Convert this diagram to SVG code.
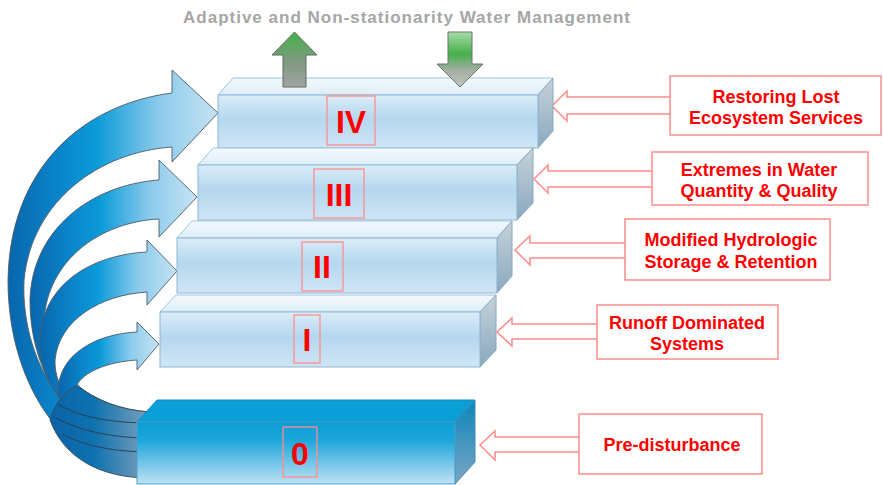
<svg xmlns="http://www.w3.org/2000/svg" width="883" height="485" viewBox="0 0 883 485">
<style>
text{font-family:"Liberation Sans",Arial,Helvetica,sans-serif;font-weight:bold}
.title{fill:#a6a6a6;font-size:17px}
.num{fill:#ff0000;font-size:32px;text-anchor:middle}
.lab{fill:#ff0000;font-size:18px;text-anchor:middle}
.numbox{fill:none;stroke:#ff8c8c;stroke-width:1.3}
.labbox{fill:#fff;stroke:#ff8c8c;stroke-width:1.5}
.hollow{fill:#fff;stroke:#ff8c8c;stroke-width:1.5;stroke-linejoin:miter}
.front{fill:url(#gFront);stroke:#8db5d4;stroke-width:1}
.top{fill:url(#gTop);stroke:#9cc3e0;stroke-width:1}
.side{fill:url(#gSide);stroke:#8aa9c0;stroke-width:1}
.curve{fill:url(#gCurve);stroke:#4a5a68;stroke-width:0.9;stroke-linejoin:round}
.band{fill:none;stroke:#2a3a4a;stroke-width:0.9}
</style>
<defs>
<linearGradient id="gFront" x1="0" y1="0" x2="0" y2="1">
<stop offset="0" stop-color="#dbedf8"/><stop offset="0.45" stop-color="#b4d7ef"/><stop offset="1" stop-color="#cfe5f4"/>
</linearGradient>
<linearGradient id="gTop" x1="0" y1="0" x2="0" y2="1">
<stop offset="0" stop-color="#f4f9fd"/><stop offset="1" stop-color="#dcedf8"/>
</linearGradient>
<linearGradient id="gSide" x1="0" y1="0" x2="0" y2="1">
<stop offset="0" stop-color="#c6d2da"/><stop offset="1" stop-color="#8aa8be"/>
</linearGradient>
<linearGradient id="gFront0" x1="0" y1="0" x2="0" y2="1">
<stop offset="0" stop-color="#0a9dd6"/><stop offset="0.3" stop-color="#1ea7dc"/><stop offset="1" stop-color="#c2e1f3"/>
</linearGradient>
<linearGradient id="gSide0" x1="0" y1="0" x2="0" y2="1">
<stop offset="0" stop-color="#0a86bd"/><stop offset="1" stop-color="#7aa6c2"/>
</linearGradient>
<linearGradient id="gCurve" x1="0" y1="0" x2="1" y2="0">
<stop offset="0" stop-color="#0866ac"/><stop offset="0.2" stop-color="#0a80c6"/><stop offset="0.42" stop-color="#0b9ad8"/><stop offset="0.72" stop-color="#8ccbec"/><stop offset="1" stop-color="#c6e3f4"/>
</linearGradient>
<linearGradient id="gFold" gradientUnits="userSpaceOnUse" x1="48" y1="0" x2="150" y2="0">
<stop offset="0" stop-color="#0a62a6"/><stop offset="0.45" stop-color="#0e72b0"/><stop offset="1" stop-color="#7fa1b9"/>
</linearGradient>
<linearGradient id="gUp" x1="0" y1="0" x2="0" y2="1">
<stop offset="0" stop-color="#45b04a"/><stop offset="0.55" stop-color="#7f9a80"/><stop offset="1" stop-color="#a3a3a3"/>
</linearGradient>
<linearGradient id="gDown" x1="0" y1="0" x2="0" y2="1">
<stop offset="0" stop-color="#a6dba8"/><stop offset="0.4" stop-color="#46b04b"/><stop offset="0.68" stop-color="#9fae9f"/><stop offset="1" stop-color="#c4c4c4"/>
</linearGradient>
</defs>
<rect width="883" height="485" fill="#ffffff"/>

<g id="title"><text class="title" x="183" y="23" textLength="447" lengthAdjust="spacing">Adaptive and Non-stationarity Water Management</text></g>

<g id="connectors">
<g id="curved-arrows">
<path class="curve" d="M 172 93 C 80 105, 10 170, 8 280 C 8 390, 70 470, 150 478 L 150 452 C 80 445, 20 370, 24 280 C 32 200, 100 152, 172 147 L 172 162 L 218 113 L 172 70 Z"/>
<path class="curve" d="M 159 180 C 90 185, 32 230, 30 300 C 30 390, 90 448, 150 452 L 150 438 C 100 438, 44 400, 44 320 C 48 260, 100 222, 159 219 L 159 237 L 197 197 L 159 160 Z"/>
<path class="curve" d="M 147 252 C 90 255, 42 285, 40 340 C 38 400, 95 437, 150 438 L 150 423 C 100 423, 54 405, 55 360 C 59 320, 100 295, 147 292 L 147 305 L 177 271 L 147 240 Z"/>
<path class="curve" d="M 137 332 C 95 334, 58 355, 58 392 C 58 410, 100 423, 150 423 L 150 412 C 120 410, 95 400, 77 385 C 83 373, 105 362, 137 360 L 137 370 L 159 344 L 137 322 Z"/>
<path d="M 77 385 C 95 400, 120 410, 150 412 L 150 478 C 100 478, 64 458, 50 420 C 55 402, 65 392, 77 385 Z" fill="url(#gFold)" stroke="#3a4a58" stroke-width="0.9"/>
<path class="band" d="M 58 404 C 80 418, 115 423, 150 423"/>
<path class="band" d="M 56 418 C 82 432, 115 438, 150 438"/>
<path class="band" d="M 62 434 C 86 447, 118 452, 150 452"/>
</g>
<path id="hollow-IV" class="hollow" d="M 670 97 L 567 97 L 567 91 L 552 106 L 567 121 L 567 114 L 670 114"/>
<path id="hollow-III" class="hollow" d="M 652 171 L 548 171 L 548 165 L 534 179 L 548 193 L 548 187 L 652 187"/>
<path id="hollow-II" class="hollow" d="M 625 243 L 530 243 L 530 236 L 515 250 L 530 265 L 530 258 L 625 258"/>
<path id="hollow-I" class="hollow" d="M 597 324 L 512 324 L 512 318 L 497 332 L 512 346 L 512 339 L 597 339"/>
<path id="hollow-0" class="hollow" d="M 579 437 L 495 437 L 495 431 L 480 445 L 495 460 L 495 452 L 579 452"/>
</g>

<g id="box-IV">
<polygon class="top" points="218,95 233,78 553,78 538,95"/>
<polygon class="side" points="538,95 553,78 553,131 538,148"/>
<rect class="front" x="218" y="95" width="320" height="53"/>
<rect class="numbox" x="327" y="96" width="48" height="49"/>
<text class="num" x="351" y="133">IV</text>
</g>

<g id="box-III">
<polygon class="top" points="198,165 213,148 533,148 517,165"/>
<polygon class="side" points="517,165 533,148 533,203 517,220"/>
<rect class="front" x="198" y="165" width="319" height="55"/>
<rect class="numbox" x="314" y="169" width="50" height="49"/>
<text class="num" x="339" y="206">III</text>
</g>

<g id="box-II">
<polygon class="top" points="177,238 192,221 512,221 497,238"/>
<polygon class="side" points="497,238 512,221 512,276 497,293"/>
<rect class="front" x="177" y="238" width="320" height="55"/>
<rect class="numbox" x="302" y="242" width="41" height="49"/>
<text class="num" x="322" y="278">II</text>
</g>

<g id="box-I">
<polygon class="top" points="160,312 176,295 496,295 480,312"/>
<polygon class="side" points="480,312 496,295 496,350 480,367"/>
<rect class="front" x="160" y="312" width="320" height="55"/>
<rect class="numbox" x="294" y="315" width="26" height="48"/>
<text class="num" x="307" y="351">I</text>
</g>

<g id="box-0">
<polygon points="137,422 157,400 475,400 455,422" fill="#0b9fd7" stroke="#0a8cc4" stroke-width="1"/>
<polygon points="455,422 475,400 475,462 455,484" fill="url(#gSide0)" stroke="#4a8ab0" stroke-width="1"/>
<rect x="137" y="422" width="318" height="62" fill="url(#gFront0)" stroke="#4aa0cc" stroke-width="1"/>
<rect class="numbox" x="283" y="427" width="34" height="50"/>
<text class="num" x="300" y="465">0</text>
</g>

<g id="arrow-up"><path d="M 283 87 L 283 55 L 272 55 L 294.5 32 L 317 55 L 306 55 L 306 87 Z" fill="url(#gUp)" stroke="#5e6a5e" stroke-width="1"/></g>
<g id="arrow-down"><path d="M 448 32 L 472 32 L 472 64 L 483 64 L 460 87 L 437 64 L 448 64 Z" fill="url(#gDown)" stroke="#6a746a" stroke-width="1"/></g>

<g id="label-IV">
<rect class="labbox" x="670" y="76" width="211" height="59"/>
<text class="lab" x="776" y="103">Restoring Lost</text>
<text class="lab" x="776" y="124">Ecosystem Services</text>
</g>
<g id="label-III">
<rect class="labbox" x="652" y="152" width="216" height="53"/>
<text class="lab" x="759" y="176">Extremes in Water</text>
<text class="lab" x="759" y="197">Quantity &amp; Quality</text>
</g>
<g id="label-II">
<rect class="labbox" x="625" y="219" width="205" height="61"/>
<text class="lab" x="731" y="246">Modified Hydrologic</text>
<text class="lab" x="731" y="268">Storage &amp; Retention</text>
</g>
<g id="label-I">
<rect class="labbox" x="597" y="305" width="181" height="54"/>
<text class="lab" x="687" y="329">Runoff Dominated</text>
<text class="lab" x="687" y="350">Systems</text>
</g>
<g id="label-0">
<rect class="labbox" x="579" y="414" width="183" height="60"/>
<text class="lab" x="672" y="451">Pre-disturbance</text>
</g>
</svg>
